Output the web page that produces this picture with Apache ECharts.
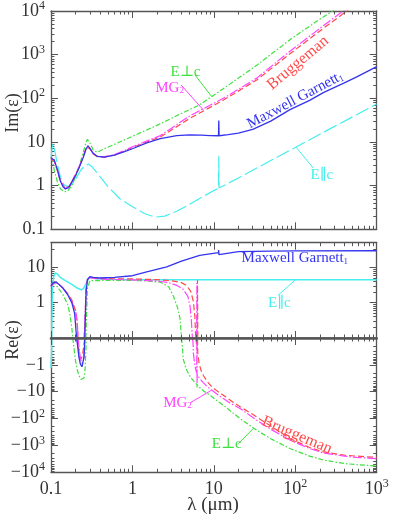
<!DOCTYPE html>
<html><head><meta charset="utf-8">
<script src="https://cdn.jsdelivr.net/npm/echarts@6/dist/echarts.min.js"></script>
<style>html,body{margin:0;padding:0;background:#fff}#c{width:393px;height:514px}</style>
</head><body><div id="c"></div><script>
// ---------------- DATA (wavelength in micron) ----------------
// Im(eps) panel
const lamImMG1 = [0.1,0.105,0.11,0.12,0.13,0.14,0.15,0.165,0.18,0.2,0.22,0.25,0.27,0.285,0.3,0.33,0.37,0.45,0.6,0.8,1,1.5,2.2,3.5,5,7,9,11.4,11.5,11.6,15,20,30,50,86,150,221,400,569,1000];
const imMG1    = [4.3,4.2,3.8,2.3,1.3,0.95,0.84,0.9,1.2,1.7,2.5,4.5,7,8.2,7.5,5.5,4.7,4.5,5,6,7,9.5,12,14,14.5,14.3,14,13.9,31,13.9,14.8,16,19.5,30,55,90,135,225,310,530];
const lamImMG2 = [0.1,0.105,0.11,0.12,0.13,0.15,0.17,0.2,0.22,0.25,0.27,0.285,0.3,0.33,0.37,0.45,0.6,0.8,1,2.2,5.1,13.1,33.6,86,221,386,450];
const imMG2    = [4.5,4.2,3.6,2.2,1.3,0.85,1.0,1.8,2.6,4.8,7.2,8.1,7.4,5.4,4.7,4.6,5.1,6.4,7.8,14,40,100,290,1200,4600,10000,13000];
const lamImBr  = [0.1,0.105,0.11,0.12,0.13,0.15,0.17,0.2,0.22,0.25,0.27,0.285,0.3,0.33,0.37,0.45,0.6,0.8,1,2.2,5.1,13.1,33.6,86,221,430,500];
const imBr     = [4.0,4.0,3.5,2.2,1.3,0.85,1.0,1.8,2.6,4.8,7.2,8.0,7.3,5.3,4.6,4.5,5.0,6.2,7.5,13,35,91,263,1050,4000,10000,13000];
const lamImPerp= [0.1,0.105,0.11,0.12,0.13,0.145,0.16,0.18,0.2,0.22,0.25,0.27,0.28,0.3,0.33,0.37,0.45,0.6,0.8,1,2,4,6.6,13,34,86,200,300];
const imPerp   = [4.5,3.5,2.2,1.2,0.85,0.72,0.75,1.0,1.6,2.6,6,10,11.5,9.5,6.5,5.8,7,8.8,11.2,13.5,24,45,70,165,580,2200,6500,10500];
const lamImPar = [0.1,0.103,0.106,0.11,0.12,0.13,0.145,0.16,0.18,0.2,0.23,0.26,0.29,0.32,0.4,0.5,0.7,1,1.4,1.9,2.5,3.5,5,6.6,10,11.4,11.5,11.6,20,50,100,300,1000];
const imPar    = [4.4,7,9,7,3,1.6,1.05,0.95,1.05,1.4,2.2,2.9,3.1,2.7,1.6,0.95,0.5,0.33,0.23,0.19,0.2,0.26,0.37,0.5,0.77,0.87,4.7,0.88,1.5,3.75,7.5,22.5,74];
// Re(eps) panel
const lamReMG1 = [0.1,0.105,0.11,0.115,0.125,0.14,0.16,0.18,0.195,0.205,0.21,0.22,0.23,0.24,0.25,0.255,0.26,0.265,0.27,0.28,0.3,0.33,0.4,0.6,1,1.5,2.64,4,6.7,11.4,11.45,11.55,11.6,20,50,100,1000];
const reMG1    = [3.0,3.6,3.9,3.9,3.3,2.6,1.7,1.0,0.5,0.12,-0.15,-0.5,-0.95,-1.18,-1.0,-0.5,-0.1,0.5,2,4.5,5.5,5.2,5.0,5.2,5.8,7.5,10.4,15,22,26,31,23,26,28,29,29.5,29.6];
const lamReMG2 = [0.1,0.11,0.12,0.14,0.16,0.18,0.2,0.21,0.215,0.22,0.23,0.24,0.25,0.257,0.262,0.27,0.28,0.3,0.35,0.5,1,2,2.8,3.5,4.2,4.8,5.1,5.3,5.45,5.55,5.6,5.8,6.0,6.15,6.2,6.22,6.25,6.6,7.4,8.3,9.4,11,13.1,16,21,33.6,50,86,150,221,400,569,1000];
const reMG2    = [2.8,3.7,3.6,2.6,1.8,1.1,0.6,0.3,0.05,-0.2,-0.6,-0.88,-0.7,-0.2,0.5,2.5,4.5,5.2,4.8,4.6,4.4,4.1,3.7,3.1,2.4,1.5,0.8,0.3,0.05,-0.15,-0.35,-0.9,-1.5,-2.0,3.6,-4.9,-2.3,-3.0,-4.6,-6.5,-8.7,-12.5,-18,-27,-42,-115,-250,-630,-1300,-1900,-2500,-2800,-3100];
const lamReBr  = [0.1,0.11,0.12,0.14,0.16,0.18,0.2,0.21,0.215,0.225,0.235,0.245,0.255,0.262,0.27,0.28,0.3,0.35,0.5,1,2,3,4,4.6,5.2,5.6,5.85,6.0,6.1,6.25,6.3,6.35,6.6,7,7.5,8.3,9.4,11,13.1,16,21,33.6,50,86,150,221,400,569,1000];
const reBr     = [3.0,3.8,3.6,2.6,1.8,1.2,0.6,0.25,-0.1,-0.5,-0.6,-0.4,-0.15,0.3,2.5,4.5,5.2,4.9,4.8,4.7,4.5,4.2,3.7,3.1,2.1,1.1,0.4,0.05,-0.15,-0.3,4.3,-0.4,-0.9,-1.7,-2.6,-4.2,-6.5,-9.5,-13.5,-21,-36,-87,-190,-550,-1200,-1750,-2300,-2500,-2800];
const lamRePerp= [0.1,0.105,0.11,0.12,0.14,0.16,0.17,0.18,0.185,0.19,0.2,0.21,0.22,0.235,0.245,0.255,0.262,0.268,0.272,0.28,0.3,0.35,0.5,1,1.6,2.2,2.8,3.2,3.6,3.85,4.0,4.1,4.2,4.6,5.1,5.6,6.15,6.2,6.25,6.7,7.5,9,11,13.1,16,21,33.6,50,86,150,221,400,569,1000];
const rePerp   = [3.5,3.8,3.6,2.8,1.7,0.9,0.5,0.2,0.05,-0.2,-0.7,-1.5,-2.5,-3.5,-3.7,-3.0,-1.5,-0.3,0.3,2.5,4.2,4.2,4.3,4.3,4.1,3.8,2.8,1.5,0.7,0.35,0.08,-0.2,-0.6,-1.5,-2.7,-3.9,-5.3,-7,-5.5,-7,-9.5,-13.5,-22,-32,-52,-100,-270,-560,-1300,-2500,-3500,-4700,-5200,-5800];
const lamRePar = [0.1,0.101,0.102,0.1025,0.104,0.108,0.113,0.12,0.13,0.15,0.18,0.21,0.235,0.25,0.27,0.29,0.31,0.35,0.5,1,11.4,11.45,11.55,11.6,1000];
const rePar    = [-1.3,-1.1,-0.3,0.3,2.5,5.5,7.0,6.5,5.2,4.2,3.3,2.6,2.3,2.5,3.5,4.8,5.2,4.8,4.6,4.5,4.45,5.0,4.0,4.45,4.45];

// ---------------- STYLE ----------------
const SERIF = '"Liberation Serif","DejaVu Serif",serif';
const AX = '#555';
const TXT = '#333';
const C = {mg1:'#3434ee', mg2:'#ff44ff', br:'#ff4a4a', perp:'#3ee03e', par:'#44eeee'};
const DASH = {mg1:'solid', mg2:[9,2,1.5,2], br:[6,3], perp:[5,2,1.5,2], par:[14,4]};

const L=51, R=393-376.7;
const POS_TOP=242.7, ZERO=338, POS_MAX=50;
const DEC=(ZERO-POS_TOP)/Math.log10(POS_MAX/0.1);   // px per decade in Re>0 part
const Y10=ZERO-2*DEC;
function gridAt(top,h){return {left:L, right:R, top:top, height:h, outerBoundsMode:'none', containLabel:false};}
const grids = [
  gridAt(11,218.3),
  gridAt(POS_TOP, ZERO-POS_TOP),
  gridAt(ZERO,134.3),
  gridAt(Y10, ZERO-Y10),        // tick helper for Re>0, 0.1..10
  gridAt(POS_TOP, Y10-POS_TOP)  // tick helper for Re>0, 10..50
];
const richNum = {
  b:{fontFamily:SERIF, fontSize:18, color:TXT, lineHeight:22},
  s:{fontFamily:SERIF, fontSize:12, color:TXT, lineHeight:12, verticalAlign:'top'}
};
function posFmt(v){const e=Math.round(Math.log10(v)); if(e===-1) return '{b|0.1}'; if(e===0) return '{b|1}'; if(e===1) return '{b|10}'; return '{b|10}{s|'+e+'}';}
function negFmt(v){const e=Math.round(Math.log10(v)); if(e<0) return ''; if(e===0) return '{b|\u22121}'; if(e===1) return '{b|\u221210}'; return '{b|\u221210}{s|'+e+'}';}
function midFmt(v){const e=Math.round(Math.log10(v)); return (e===0||e===1)?posFmt(v):'';}

function tickCfg(show){return {show:show, inside:true, length:7, lineStyle:{color:AX, width:1}};}
function minorCfg(show,n){return {show:show, splitNumber:n||9, length:3.5, lineStyle:{color:AX,width:1}};}
function xAxis(g, pos, showLabel, lineW){
  return {type:'log', logBase:10, gridIndex:g, position:pos, min:0.1, max:1000,
    axisLine:{show:true, onZero:false, lineStyle:{color:AX, width:lineW||1.3}},
    axisTick:tickCfg(true), minorTick:minorCfg(true),
    splitLine:{show:false}, minorSplitLine:{show:false},
    axisLabel:{show:showLabel, margin:6, formatter:posFmt, rich:richNum},
    z:(lineW?5:0)};
}
function hiddenX(g){return {type:'log', gridIndex:g, min:0.1, max:1000, show:false};}
function yAxis(g, pos, min, max, o){
  o=o||{};
  return {type:'log', logBase:10, gridIndex:g, position:pos, min:min, max:max, inverse:!!o.inverse,
    axisLine:{show:o.line!==false, onZero:false, lineStyle:{color:AX, width:1.3}},
    axisTick:tickCfg(o.ticks!==false), minorTick:minorCfg(o.ticks!==false, o.minor),
    splitLine:{show:false}, minorSplitLine:{show:false},
    axisLabel:{show:!!o.fmt, margin:6, formatter:o.fmt||'', rich:richNum}};
}
const xAxes=[
  xAxis(0,'bottom',false), xAxis(0,'top',false),
  xAxis(1,'bottom',false,2.6), xAxis(1,'top',false),
  xAxis(2,'bottom',true), xAxis(2,'top',false,1.5),
  hiddenX(3), hiddenX(4)
];
const yAxes=[
  yAxis(0,'left',0.1,1e4,{fmt:posFmt}), yAxis(0,'right',0.1,1e4),
  yAxis(1,'left',0.1,POS_MAX,{ticks:false}), yAxis(1,'right',0.1,POS_MAX,{ticks:false}),
  yAxis(2,'left',0.1,1e4,{inverse:true, fmt:negFmt}), yAxis(2,'right',0.1,1e4,{inverse:true}),
  yAxis(3,'left',0.1,10,{line:false, fmt:midFmt}), yAxis(3,'right',0.1,10,{line:false}),
  yAxis(4,'left',10,POS_MAX,{line:false, minor:4}), yAxis(4,'right',10,POS_MAX,{line:false, minor:4})
];

function pairs(l,v){return l.map((x,i)=>[x,v[i]]);}
function part(l,v,sign){
  const w=v.map(y=>y*sign);
  return l.map((x,i)=>{
    if(w[i]>=0.1) return [x,w[i]];
    const nb=(i>0&&w[i-1]>=0.1)||(i<w.length-1&&w[i+1]>=0.1);
    return nb?[x,0.1]:[x,'-'];
  });
}
function line(name,g,data,key,extra){
  return Object.assign({type:'line', name:name, xAxisIndex:2*g, yAxisIndex:2*g, data:data,
    symbol:'none', showSymbol:false, silent:true, clip:true, connectNulls:false, z:2,
    lineStyle:{color:C[key], width:key==='mg1'?1.3:1.2, type:DASH[key]}}, extra||{});
}
function txt(coord,text,color,size,rot){
  return {coord:coord, symbol:'rect', symbolSize:1, itemStyle:{color:'rgba(0,0,0,0)'},
    label:{show:true, position:'inside', formatter:text, color:color, fontFamily:SERIF, fontSize:size, rotate:rot||0,
      rich:{sub:{fontFamily:SERIF, fontSize:Math.round(size*0.62), color:color, verticalAlign:'bottom', padding:[6,0,0,0]}}}};
}
function mk(points, arrows, color){
  const o={};
  if(points) o.markPoint={silent:true, animation:false, data:points};
  if(arrows) o.markLine={silent:true, animation:false, symbol:['none','arrow'], symbolSize:[0,6],
    label:{show:false}, lineStyle:{color:color, width:1, type:'solid'}, emphasis:{disabled:true},
    data:arrows.map(a=>[{coord:a[0]},{coord:a[1]}])};
  return o;
}

const series=[
  // top: Im
  line('E||c',0,pairs(lamImPar,imPar),'par', mk([txt([212,1.75],'E\u2225c',C.par,15)],[[[166,2.53],[102,7.67]]],C.par)),
  line('E_perp',0,pairs(lamImPerp,imPerp),'perp', mk([txt([4.49,407],'E\u22a5c',C.perp,15)],[[[5.87,342],[9.42,109]]],C.perp)),
  line('Bruggeman',0,pairs(lamImBr,imBr),'br', mk([txt([108,646],'Bruggeman',C.br,16,40)])),
  line('MG2',0,pairs(lamImMG2,imMG2),'mg2', mk([txt([2.86,172],'MG{sub|2}',C.mg2,15)],[[[3.96,202],[7.43,54]]],C.mg2)),
  line('MG1',0,pairs(lamImMG1,imMG1),'mg1', mk([txt([99.6,91],'Maxwell Garnett{sub|1}',C.mg1,15,28)])),
  // bottom positive: Re>0
  line('E||c',1,part(lamRePar,rePar,1),'par', Object.assign({lineStyle:{color:C.par,width:1.5,type:'solid'}}, mk([txt([63.8,0.95],'E\u2225c',C.par,15)],[[[61.5,1.63],[99.5,4.35]]],C.par))),
  line('E_perp',1,part(lamRePerp,rePerp,1),'perp'),
  line('Bruggeman',1,part(lamReBr,reBr,1),'br'),
  line('MG2',1,part(lamReMG2,reMG2,1),'mg2'),
  line('MG1',1,part(lamReMG1,reMG1,1),'mg1', mk([txt([98.8,18],'Maxwell Garnett{sub|1}',C.mg1,15)])),
  // bottom negative: Re<0 (|Re| on inverted log axis)
  line('E||c',2,part(lamRePar,rePar,-1),'par', {lineStyle:{color:C.par,width:1.5,type:'solid'}}),
  line('E_perp',2,part(lamRePerp,rePerp,-1),'perp', mk([txt([14.4,902],'E\u22a5c',C.perp,15)],[[[20,855],[30.5,234]]],C.perp)),
  line('Bruggeman',2,part(lamReBr,reBr,-1),'br', mk([txt([105,417],'Bruggeman',C.br,16,-23)])),
  line('MG2',2,part(lamReMG2,reMG2,-1),'mg2', mk([txt([3.58,25.5],'MG{sub|2}',C.mg2,15)],[[[5.1,26],[9.42,8.7]]],C.mg2)),
  line('MG1',2,part(lamReMG1,reMG1,-1),'mg1')
];

const chart=echarts.init(document.getElementById('c'),null,{renderer:'canvas'});
chart.setOption({
  animation:false, backgroundColor:'#fff',
  grid:grids, xAxis:xAxes, yAxis:yAxes, series:series,
  graphic:[
    {type:'text', x:13, y:113, rotation:Math.PI/2, style:{text:'Im(\u03b5)', font:'18px '+SERIF, fill:TXT, align:'center', verticalAlign:'middle'}},
    {type:'text', x:13, y:340, rotation:Math.PI/2, style:{text:'Re(\u03b5)', font:'18px '+SERIF, fill:TXT, align:'center', verticalAlign:'middle'}},
    {type:'text', x:213, y:505, style:{text:'\u03bb (\u03bcm)', font:'19px '+SERIF, fill:TXT, align:'center', verticalAlign:'middle'}}
  ]
});
</script></body></html>
